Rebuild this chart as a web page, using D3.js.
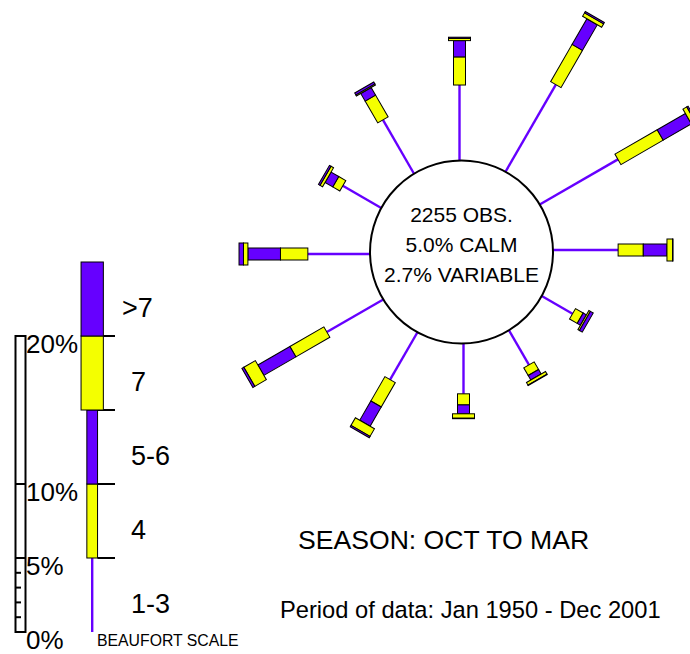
<!DOCTYPE html>
<html>
<head>
<meta charset="utf-8">
<script src="https://cdn.jsdelivr.net/npm/d3@7"></script>
<style>
  body { margin: 0; background: #fff; }
  svg { display: block; }
  text { font-family: "Liberation Sans", Arial, Helvetica, sans-serif; fill: #000; }
</style>
</head>
<body>
<svg id="chart" width="690" height="654"></svg>
<script>
// Wind directions (degrees clockwise from north)
const directions = [0, 30, 60, 90, 120, 150, 180, 210, 240, 270, 300, 330];
// Beaufort classes, inner to outer
const beaufort = ["1-3", "4", "5-6", "7", ">7"];
// Frequency (% of observations) per direction for each Beaufort class
const f13  = [5.1, 6.8, 6.1, 4.4, 2.4, 2.7, 3.4, 3.7, 4.4, 4.2, 3.0, 4.2];
const f4   = [1.9, 2.9, 3.3, 1.7, 0.6, 0.6, 0.75, 1.9, 2.65, 1.85, 0.55, 1.7];
const f56  = [1.1, 2.0, 2.2, 1.6, 0.25, 0.35, 0.6, 1.5, 2.5, 2.2, 0.6, 0.6];
const f7   = [0.15, 0.27, 0.3, 0.38, 0.12, 0.2, 0.3, 0.6, 0.9, 0.3, 0.2, 0.08];
const fgt7 = [0.08, 0.1, 0.1, 0.03, 0.22, 0.03, 0.03, 0.1, 0.15, 0.3, 0.12, 0.15];

// Scale bar and legend key
const scaleLabels = [0, 5, 10, 20];
const scaleMajor = [5, 10];
const scaleMinor = [1, 2, 3, 4];
const legendStep = 5;   // each class in the key spans 5%

// Centre summary
const centreLines = ["2255 OBS.", "5.0% CALM", "2.7% VARIABLE"];
const seasonLabel = "SEASON: OCT TO MAR";
const periodLabel = "Period of data: Jan 1950 - Dec 2001";

const PURPLE = "#6600ff", YELLOW = "#f4ff00";
const classColor = [PURPLE, YELLOW, PURPLE, YELLOW, PURPLE];
const classWidth = [0, 12, 12, 22, 22];

const svg = d3.select("#chart");

// Radial length per percent (same as the scale bar on the left)
const len = d3.scaleLinear().domain([0, 20]).range([0, 296]);
const cx = 461.5, cy = 252, R = 91.5;

const rows = directions.map((dir, i) => ({
  dir, "1-3": f13[i], "4": f4[i], "5-6": f56[i], "7": f7[i], ">7": fgt7[i]
}));
const stacked = d3.stack().keys(beaufort)(rows);

const arms = svg.append("g").selectAll("g.arm")
  .data(rows)
  .join("g")
  .attr("class", "arm")
  .attr("transform", d => `translate(${cx},${cy}) rotate(${d.dir}) translate(-2,0)`);

arms.each(function(d, i) {
  const g = d3.select(this);
  stacked.forEach((s, k) => {
    const [v0, v1] = s[i];
    const r0 = R + len(v0), r1 = R + len(v1);
    if (k === 0) {
      g.append("line")
        .attr("x1", 0).attr("x2", 0)
        .attr("y1", -r0).attr("y2", -r1)
        .attr("stroke", PURPLE).attr("stroke-width", 2.4);
    } else {
      g.append("rect")
        .attr("x", -classWidth[k] / 2).attr("width", classWidth[k])
        .attr("y", -r1).attr("height", Math.max(r1 - r0, 0.3))
        .attr("fill", classColor[k])
        .attr("stroke", "#000").attr("stroke-width", 1);
    }
  });
});

// Centre circle with summary
svg.append("circle")
  .attr("cx", cx).attr("cy", cy).attr("r", R)
  .attr("fill", "#fff").attr("stroke", "#000").attr("stroke-width", 2);

svg.append("g").selectAll("text")
  .data(centreLines)
  .join("text")
  .attr("x", cx).attr("y", (d, i) => 222 + i * 30)
  .attr("text-anchor", "middle")
  .attr("font-size", 21)
  .text(d => d);

// Percentage scale bar
const sy = d3.scaleLinear().domain([0, 20]).range([632, 336]);
const scaleG = svg.append("g");
scaleG.append("rect")
  .attr("x", 15.5).attr("y", sy(20))
  .attr("width", 10).attr("height", sy(0) - sy(20))
  .attr("fill", "#fff").attr("stroke", "#000").attr("stroke-width", 2);
scaleG.selectAll("line.major")
  .data(scaleMajor).join("line").attr("class", "major")
  .attr("x1", 15.5).attr("x2", 26).attr("y1", d => sy(d)).attr("y2", d => sy(d))
  .attr("stroke", "#000").attr("stroke-width", 2);
scaleG.selectAll("line.minor")
  .data(scaleMinor).join("line").attr("class", "minor")
  .attr("x1", 15.5).attr("x2", 21).attr("y1", d => sy(d)).attr("y2", d => sy(d))
  .attr("stroke", "#000").attr("stroke-width", 2);
scaleG.selectAll("text")
  .data(scaleLabels).join("text")
  .attr("x", 26).attr("y", d => sy(d) + 17)
  .attr("font-size", 26)
  .text(d => d + "%");

// Beaufort key
const keyX = 92.2;
const keyG = svg.append("g");
keyG.selectAll("line.tick")
  .data(d3.range(1, beaufort.length)).join("line").attr("class", "tick")
  .attr("x1", 97.5).attr("x2", 115)
  .attr("y1", k => sy(k * legendStep)).attr("y2", k => sy(k * legendStep))
  .attr("stroke", "#000").attr("stroke-width", 2);
const keyWidth = [0, 10.7, 10.7, 22.3, 22.3];
beaufort.forEach((b, k) => {
  const y0 = sy(k * legendStep), y1 = sy((k + 1) * legendStep);
  if (k === 0) {
    keyG.append("line")
      .attr("x1", keyX).attr("x2", keyX).attr("y1", y0).attr("y2", y1)
      .attr("stroke", PURPLE).attr("stroke-width", 2.4);
  } else {
    keyG.append("rect")
      .attr("x", keyX - keyWidth[k] / 2).attr("width", keyWidth[k])
      .attr("y", y1).attr("height", y0 - y1)
      .attr("fill", classColor[k]).attr("stroke", "#000").attr("stroke-width", 1);
  }
});
keyG.selectAll("text.cls")
  .data(beaufort).join("text").attr("class", "cls")
  .attr("x", d => d.startsWith(">") ? 122 : 131)
  .attr("y", (d, k) => (sy(k * legendStep) + sy((k + 1) * legendStep)) / 2 + 17.5)
  .attr("font-size", 27)
  .text(d => d);
keyG.append("text")
  .attr("x", 97).attr("y", 646)
  .attr("font-size", 15.8)
  .text("BEAUFORT SCALE");

// Season and period notes
svg.append("text")
  .attr("x", 298).attr("y", 549)
  .attr("font-size", 26.6)
  .text(seasonLabel);
svg.append("text")
  .attr("x", 280).attr("y", 618)
  .attr("font-size", 23.7)
  .text(periodLabel);
</script>
</body>
</html>
